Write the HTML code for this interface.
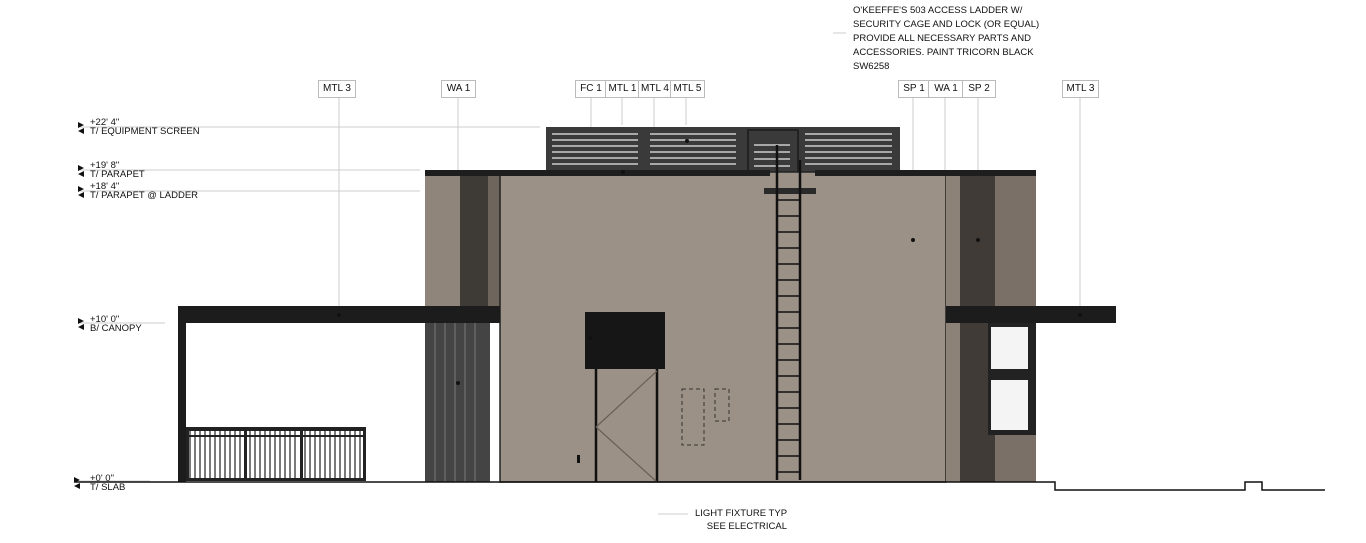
<!DOCTYPE html>
<html><head><style>
body{margin:0;width:1366px;height:543px;background:#fff;overflow:hidden;position:relative;font-family:"Liberation Sans",sans-serif}
.a{position:absolute}
.tag{position:absolute;top:80px;height:16px;border:1px solid #bbb;background:#fff;font-size:10px;line-height:16px;text-align:center;color:#111}
.t{position:absolute;font-size:9.5px;color:#111;line-height:9px}
</style></head><body>
<svg class="a" style="left:0;top:0" width="1366" height="543">
<!-- level lines -->
<g stroke="#ccc" stroke-width="1">
<line x1="80" y1="127" x2="540" y2="127"/>
<line x1="80" y1="170" x2="420" y2="170"/>
<line x1="80" y1="191" x2="420" y2="191"/>
<line x1="80" y1="323" x2="165" y2="323"/>
<line x1="80" y1="481" x2="150" y2="481"/>
<!-- leaders -->
<line x1="339" y1="97" x2="339" y2="315"/>
<line x1="458" y1="97" x2="458" y2="383"/>
<line x1="591" y1="97" x2="591" y2="338"/>
<line x1="622" y1="97" x2="622" y2="125"/>
<line x1="654" y1="97" x2="654" y2="338"/>
<line x1="686" y1="97" x2="686" y2="125"/>
<line x1="913" y1="97" x2="913" y2="240"/>
<line x1="945" y1="97" x2="945" y2="240"/>
<line x1="978" y1="97" x2="978" y2="240"/>
<line x1="1080" y1="97" x2="1080" y2="315"/>
<line x1="833" y1="33" x2="846" y2="33"/>
<line x1="658" y1="514" x2="688" y2="514"/>
</g>
<!-- equipment screen -->
<rect x="546" y="127" width="354" height="46" fill="#3a3a3a"/>
<g stroke="#ccc" stroke-width="1.5">
<line x1="552" y1="134" x2="638" y2="134"/><line x1="552" y1="140" x2="638" y2="140"/><line x1="552" y1="146" x2="638" y2="146"/><line x1="552" y1="152" x2="638" y2="152"/><line x1="552" y1="158" x2="638" y2="158"/><line x1="552" y1="164" x2="638" y2="164"/>
<line x1="650" y1="134" x2="736" y2="134"/><line x1="650" y1="140" x2="736" y2="140"/><line x1="650" y1="146" x2="736" y2="146"/><line x1="650" y1="152" x2="736" y2="152"/><line x1="650" y1="158" x2="736" y2="158"/><line x1="650" y1="164" x2="736" y2="164"/>
<line x1="805" y1="134" x2="892" y2="134"/><line x1="805" y1="140" x2="892" y2="140"/><line x1="805" y1="146" x2="892" y2="146"/><line x1="805" y1="152" x2="892" y2="152"/><line x1="805" y1="158" x2="892" y2="158"/><line x1="805" y1="164" x2="892" y2="164"/>
<line x1="754" y1="145" x2="790" y2="145"/><line x1="754" y1="152" x2="790" y2="152"/><line x1="754" y1="159" x2="790" y2="159"/><line x1="754" y1="166" x2="790" y2="166"/><line x1="754" y1="173" x2="790" y2="173"/><line x1="754" y1="180" x2="790" y2="180"/>
</g>
<rect x="748" y="130" width="50" height="60" fill="none" stroke="#222" stroke-width="2"/>
<!-- left column -->
<rect x="425" y="172" width="75" height="310" fill="#6e655c"/>
<rect x="425" y="172" width="35" height="134" fill="#8f857a"/>
<rect x="460" y="172" width="28" height="134" fill="#3e3a36"/>
<rect x="425" y="323" width="65" height="159" fill="#444"/>
<g stroke="#777" stroke-width="1"><line x1="435" y1="323" x2="435" y2="482"/><line x1="445" y1="323" x2="445" y2="482"/><line x1="455" y1="323" x2="455" y2="482"/><line x1="465" y1="323" x2="465" y2="482"/><line x1="475" y1="323" x2="475" y2="482"/></g>
<rect x="490" y="323" width="10" height="159" fill="#fff"/>
<!-- main body -->
<rect x="500" y="172" width="446" height="310" fill="#9c9186" stroke="#222" stroke-width="1.5"/>
<!-- right column -->
<rect x="946" y="172" width="90" height="310" fill="#7a7067"/>
<rect x="946" y="172" width="14" height="310" fill="#8c8278"/>
<rect x="960" y="172" width="35" height="310" fill="#403b37"/>
<rect x="988" y="323" width="48" height="112" fill="#222"/>
<rect x="991" y="327" width="37" height="42" fill="#f4f4f4"/>
<rect x="991" y="380" width="37" height="50" fill="#f4f4f4"/>
<rect x="995" y="435" width="41" height="47" fill="#7a7067"/>
<!-- parapet cap -->
<rect x="425" y="170" width="345" height="6" fill="#1e1e1e"/>
<rect x="815" y="170" width="221" height="6" fill="#1e1e1e"/>
<rect x="764" y="188" width="52" height="6" fill="#2a2a2a"/>
<!-- canopy -->
<rect x="178" y="306" width="322" height="17" fill="#1c1c1c"/>
<rect x="946" y="306" width="170" height="17" fill="#1c1c1c"/>
<rect x="178" y="323" width="8" height="159" fill="#1c1c1c"/>
<!-- railing -->
<rect x="186" y="427" width="180" height="4" fill="#222"/>
<rect x="186" y="435" width="180" height="2" fill="#222"/>
<rect x="186" y="478" width="180" height="3" fill="#222"/>
<g stroke="#222" stroke-width="1.2">
<line x1="190" y1="431" x2="190" y2="480"/><line x1="195" y1="431" x2="195" y2="480"/><line x1="200" y1="431" x2="200" y2="480"/><line x1="205" y1="431" x2="205" y2="480"/><line x1="210" y1="431" x2="210" y2="480"/><line x1="215" y1="431" x2="215" y2="480"/><line x1="220" y1="431" x2="220" y2="480"/><line x1="225" y1="431" x2="225" y2="480"/><line x1="230" y1="431" x2="230" y2="480"/><line x1="235" y1="431" x2="235" y2="480"/><line x1="240" y1="431" x2="240" y2="480"/><line x1="250" y1="431" x2="250" y2="480"/><line x1="255" y1="431" x2="255" y2="480"/><line x1="260" y1="431" x2="260" y2="480"/><line x1="265" y1="431" x2="265" y2="480"/><line x1="270" y1="431" x2="270" y2="480"/><line x1="275" y1="431" x2="275" y2="480"/><line x1="280" y1="431" x2="280" y2="480"/><line x1="285" y1="431" x2="285" y2="480"/><line x1="290" y1="431" x2="290" y2="480"/><line x1="295" y1="431" x2="295" y2="480"/><line x1="305" y1="431" x2="305" y2="480"/><line x1="310" y1="431" x2="310" y2="480"/><line x1="315" y1="431" x2="315" y2="480"/><line x1="320" y1="431" x2="320" y2="480"/><line x1="325" y1="431" x2="325" y2="480"/><line x1="330" y1="431" x2="330" y2="480"/><line x1="335" y1="431" x2="335" y2="480"/><line x1="340" y1="431" x2="340" y2="480"/><line x1="345" y1="431" x2="345" y2="480"/><line x1="350" y1="431" x2="350" y2="480"/><line x1="355" y1="431" x2="355" y2="480"/><line x1="360" y1="431" x2="360" y2="480"/>
</g>
<g fill="#222"><rect x="186" y="427" width="3" height="54"/><rect x="244" y="427" width="3" height="54"/><rect x="300" y="427" width="3" height="54"/><rect x="363" y="427" width="3" height="54"/></g>
<!-- ladder -->
<g stroke="#111" stroke-width="2.5"><line x1="777" y1="145" x2="777" y2="480"/><line x1="800" y1="160" x2="800" y2="480"/></g>
<g stroke="#111" stroke-width="1.5">
<line x1="777" y1="200" x2="800" y2="200"/><line x1="777" y1="216" x2="800" y2="216"/><line x1="777" y1="232" x2="800" y2="232"/><line x1="777" y1="248" x2="800" y2="248"/><line x1="777" y1="264" x2="800" y2="264"/><line x1="777" y1="280" x2="800" y2="280"/><line x1="777" y1="296" x2="800" y2="296"/><line x1="777" y1="312" x2="800" y2="312"/><line x1="777" y1="328" x2="800" y2="328"/><line x1="777" y1="344" x2="800" y2="344"/><line x1="777" y1="360" x2="800" y2="360"/><line x1="777" y1="376" x2="800" y2="376"/><line x1="777" y1="392" x2="800" y2="392"/><line x1="777" y1="408" x2="800" y2="408"/><line x1="777" y1="424" x2="800" y2="424"/><line x1="777" y1="440" x2="800" y2="440"/><line x1="777" y1="456" x2="800" y2="456"/><line x1="777" y1="472" x2="800" y2="472"/>
</g>
<!-- box & stand -->
<rect x="585" y="312" width="80" height="57" fill="#161616"/>
<g stroke="#111" stroke-width="2.5"><line x1="596" y1="369" x2="596" y2="482"/><line x1="657" y1="369" x2="657" y2="482"/></g>
<g stroke="#6a5f55" stroke-width="1.2"><line x1="596" y1="427" x2="657" y2="371"/><line x1="596" y1="427" x2="657" y2="482"/></g>
<rect x="577" y="455" width="3" height="8" fill="#111"/>
<g fill="none" stroke="#333" stroke-dasharray="4,3"><rect x="682" y="389" width="22" height="56"/><rect x="715" y="389" width="14" height="32"/></g>
<!-- dots -->
<g fill="#111"><circle cx="339" cy="315" r="2"/><circle cx="458" cy="383" r="2"/><circle cx="590" cy="338" r="2"/><circle cx="623" cy="172" r="2"/><circle cx="913" cy="240" r="2"/><circle cx="978" cy="240" r="2"/><circle cx="1080" cy="315" r="2"/><circle cx="687" cy="141" r="2"/></g>
<!-- ground -->
<path d="M75 482 H1055 V490 H1245 V482 H1262 V490 H1325" fill="none" stroke="#111" stroke-width="1.5"/>
<!-- level markers -->
<g fill="#111">
<path d="M78 122 l6 3 l-6 3 z M84 128 l-6 3 l6 3 z"/>
<path d="M78 165 l6 3 l-6 3 z M84 171 l-6 3 l6 3 z"/>
<path d="M78 186 l6 3 l-6 3 z M84 192 l-6 3 l6 3 z"/>
<path d="M78 318 l6 3 l-6 3 z M84 324 l-6 3 l6 3 z"/>
<path d="M74 477 l6 3 l-6 3 z M80 483 l-6 3 l6 3 z"/>
</g>
</svg>
<div class="t" style="left:90px;top:118px">+22' 4"<br>T/ EQUIPMENT SCREEN</div>
<div class="t" style="left:90px;top:161px">+19' 8"<br>T/ PARAPET</div>
<div class="t" style="left:90px;top:182px">+18' 4"<br>T/ PARAPET @ LADDER</div>
<div class="t" style="left:90px;top:315px">+10' 0"<br>B/ CANOPY</div>
<div class="t" style="left:90px;top:474px">+0' 0"<br>T/ SLAB</div>
<div class="t" style="left:853px;top:4px;line-height:14px">O'KEEFFE'S 503 ACCESS LADDER W/<br>SECURITY CAGE AND LOCK (OR EQUAL)<br>PROVIDE ALL NECESSARY PARTS AND<br>ACCESSORIES. PAINT TRICORN BLACK<br>SW6258</div>
<div class="t" style="left:695px;top:507px;line-height:13px;text-align:right">LIGHT FIXTURE TYP<br>SEE ELECTRICAL</div>
<div class="tag" style="left:318px;width:36px">MTL 3</div>
<div class="tag" style="left:441px;width:33px">WA 1</div>
<div class="tag" style="left:575px;width:30px">FC 1</div>
<div class="tag" style="left:605px;width:33px">MTL 1</div>
<div class="tag" style="left:638px;width:32px">MTL 4</div>
<div class="tag" style="left:670px;width:33px">MTL 5</div>
<div class="tag" style="left:898px;width:30px">SP 1</div>
<div class="tag" style="left:928px;width:34px">WA 1</div>
<div class="tag" style="left:962px;width:32px">SP 2</div>
<div class="tag" style="left:1062px;width:35px">MTL 3</div>
</body></html>
